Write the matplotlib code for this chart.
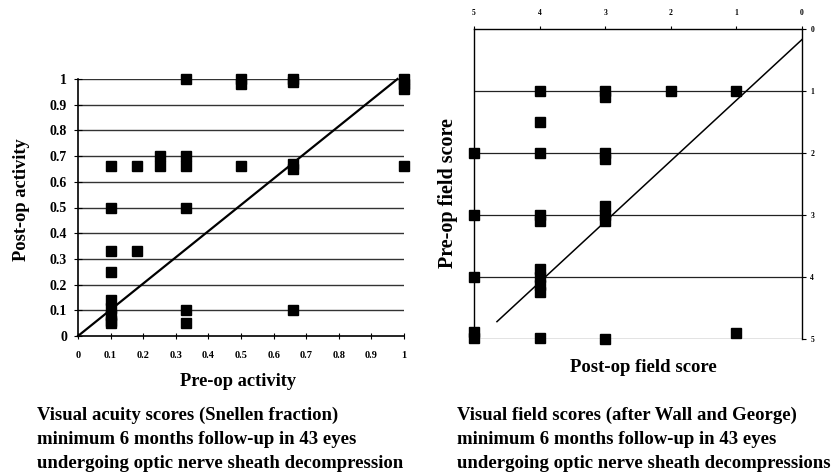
import matplotlib.pyplot as plt

# Left chart: visual acuity (Snellen fraction)
acuity_pre = [0.33, 0.5, 0.5, 0.66, 0.66, 1.0, 1.0, 1.0,
              0.1, 0.18, 0.25, 0.25, 0.33, 0.33, 0.5, 0.66, 0.66, 1.0,
              0.1, 0.33, 0.1, 0.18, 0.1,
              0.1, 0.1, 0.1, 0.1, 0.1, 0.33, 0.33, 0.66]
acuity_post = [1.0, 1.0, 0.98, 1.0, 0.99, 1.0, 0.98, 0.96,
               0.66, 0.66, 0.70, 0.66, 0.70, 0.66, 0.66, 0.67, 0.65, 0.66,
               0.5, 0.5, 0.33, 0.33, 0.25,
               0.14, 0.11, 0.08, 0.06, 0.05, 0.1, 0.05, 0.1]
acuity_line_x = [0.0, 0.98]
acuity_line_y = [0.0, 1.0]

# Right chart: visual field score (after Wall and George)
field_post = [4, 3, 3, 2, 1,
              4,
              5, 4, 3, 3,
              5, 4, 4, 3, 3, 3,
              5, 4, 4, 4, 4,
              5, 5, 4, 3, 1]
field_pre = [1.0, 1.0, 1.1, 1.0, 1.0,
             1.5,
             2.0, 2.0, 2.0, 2.1,
             3.0, 3.0, 3.1, 2.85, 3.0, 3.1,
             4.0, 3.87, 4.0, 4.13, 4.24,
             4.88, 4.99, 4.98, 5.0, 4.9]
field_line_x = [4.65, 0.0]
field_line_y = [4.72, 0.17]

serif = 'Liberation Serif'
plt.rcParams['font.family'] = serif
plt.rcParams['font.weight'] = 'bold'

fig = plt.figure(figsize=(8.34, 4.72), dpi=100)

def px(x, y):
    # pixel position (from top-left) -> figure fraction
    return x/834, 1 - y/472

# ---------- left chart ----------
ax1 = fig.add_axes([78/834, 1 - 336/472, 326/834, 257/472])
ax1.set_xlim(0, 1)
ax1.set_ylim(0, 1)
for v in [i/10 for i in range(1, 11)]:
    ax1.axhline(v, color='#333333', lw=1.0, zorder=1)
ax1.plot(acuity_line_x, acuity_line_y, color='black', lw=1.6, zorder=2, clip_on=False)
ax1.plot(acuity_pre, acuity_post, 's', color='black', ms=7.5, zorder=3, clip_on=False)
ax1.spines['top'].set_visible(False)
ax1.spines['right'].set_visible(False)
ax1.spines['left'].set_linewidth(1.2)
ax1.spines['bottom'].set_linewidth(1.2)
ax1.set_xticks([i/10 for i in range(11)])
ax1.set_xticklabels(['0', '0.1', '0.2', '0.3', '0.4', '0.5', '0.6', '0.7', '0.8', '0.9', '1'])
ax1.set_yticks([i/10 for i in range(11)])
ax1.set_yticklabels(['0', '0.1', '0.2', '0.3', '0.4', '0.5', '0.6', '0.7', '0.8', '0.9', '1'])
ax1.tick_params(axis='x', labelsize=7.5, length=5, direction='inout', pad=8)
ax1.tick_params(axis='y', labelsize=10, length=6, direction='inout', pad=5)
for lab in ax1.get_xticklabels() + ax1.get_yticklabels():
    lab.set_fontweight('bold')
fig.text(*px(238, 382), 'Pre-op activity', ha='center', va='center',
         fontsize=13.3, fontweight='bold')
fig.text(*px(22, 200), 'Post-op activity', ha='center', va='center', rotation=90,
         fontsize=13.3, fontweight='bold')

# ---------- right chart ----------
ax2 = fig.add_axes([474/834, 1 - 339/472, 328/834, 310/472])
ax2.set_xlim(5, 0)
ax2.set_ylim(5, 0)
for v in [1, 2, 3, 4, 5]:
    ax2.axhline(v, color='#222222', lw=0.9, zorder=1)
ax2.plot(field_line_x, field_line_y, color='black', lw=1.1, zorder=2)
ax2.plot(field_post, field_pre, 's', color='black', ms=7.5, zorder=3, clip_on=False)
for s in ax2.spines.values():
    s.set_linewidth(1.0)
ax2.spines['bottom'].set_visible(False)
ax2.xaxis.set_ticks_position('top')
ax2.yaxis.set_ticks_position('right')
ax2.set_xticks([5, 4, 3, 2, 1, 0])
ax2.set_yticks([0, 1, 2, 3, 4, 5])
ax2.tick_params(axis='x', labelsize=5.5, length=2.5, pad=6)
ax2.tick_params(axis='y', labelsize=5.5, length=3, pad=3)
for lab in ax2.get_xticklabels() + ax2.get_yticklabels():
    lab.set_fontweight('bold')
fig.text(*px(448, 193), 'Pre-op field score', ha='center', va='center', rotation=90,
         fontsize=14.5, fontweight='bold')
fig.text(*px(643, 368), 'Post-op field score', ha='center', va='center',
         fontsize=13.5, fontweight='bold')

# ---------- captions ----------
left_caption = ['Visual acuity scores (Snellen fraction)',
                'minimum 6 months follow-up in 43 eyes',
                'undergoing optic nerve sheath decompression']
right_caption = ['Visual field scores (after Wall and George)',
                 'minimum 6 months follow-up in 43 eyes',
                 'undergoing optic nerve sheath decompressions']
for i, (lt, rt) in enumerate(zip(left_caption, right_caption)):
    y = 415 + 24*i
    fig.text(*px(37, y), lt, ha='left', va='center', fontsize=13.5, fontweight='bold')
    fig.text(*px(457, y), rt, ha='left', va='center', fontsize=13.5, fontweight='bold')

fig.savefig('out.png', dpi=100)
